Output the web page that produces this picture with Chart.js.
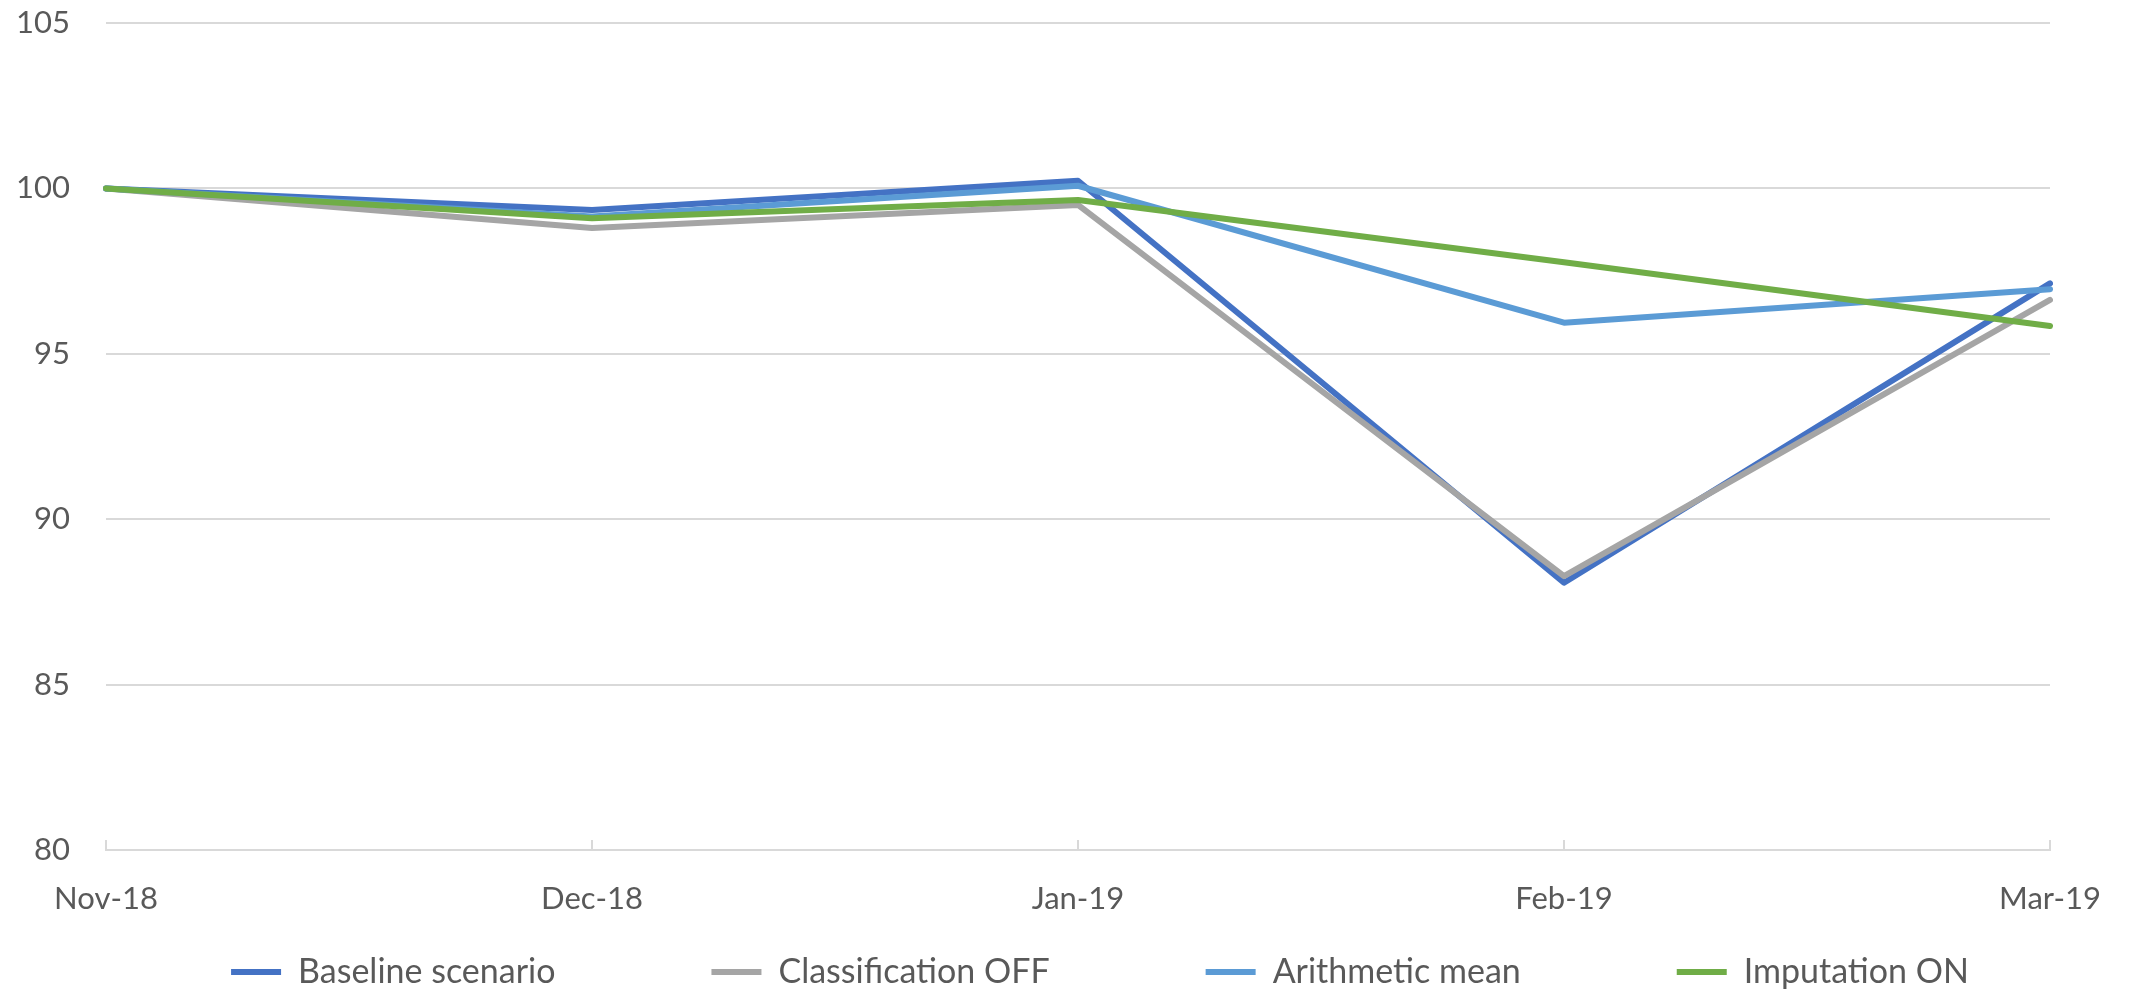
<!DOCTYPE html>
<html>
<head>
<meta charset="utf-8">
<script src="https://cdn.jsdelivr.net/npm/chart.js@4/dist/chart.umd.min.js"></script>
<style>
  html, body { margin: 0; padding: 0; background: #ffffff; }
  #wrap { width: 2129px; height: 990px; position: relative; }
</style>
</head>
<body>
<div id="wrap"><canvas id="chart"></canvas></div>
<script>
// Monthly index values, Nov-18 = 100
const months = ['Nov-18', 'Dec-18', 'Jan-19', 'Feb-19', 'Mar-19'];
const baselineScenario = [100, 99.35, 100.23, 88.08, 97.13];
const classificationOff = [100, 98.8, 99.5, 88.28, 96.63];
const arithmeticMean = [100, 99.15, 100.08, 95.94, 96.95];
const imputationOn = [100, 99.1, 99.65, 97.77, 95.84];
const yTicks = [80, 85, 90, 95, 100, 105];

const TEXT = '#595959';
const GRID = '#d9d9d9';
const FONT = 'Lato, "Open Sans", sans-serif';

function series(label, data, color, order) {
  return {
    label, data, order,
    borderColor: color,
    backgroundColor: color,
    borderWidth: 6,
    borderCapStyle: 'round',
    borderJoinStyle: 'round',
    pointRadius: 0,
    pointHoverRadius: 0,
    tension: 0,
    fill: false
  };
}

// extra space after each legend entry (except the last) so entries spread out evenly
const LEGEND_GAP = 128;
function gapText(font) {
  const ctx = document.createElement('canvas').getContext('2d');
  ctx.font = font;
  const w = ctx.measureText('\u2002').width;
  return '\u2002'.repeat(Math.max(0, Math.round(LEGEND_GAP / w)));
}

const legendFontSize = 34;

// nudges the legend row slightly to the right of the plot centre
const legendShift = {
  id: 'legendShift',
  afterLayout(chart) {
    const lg = chart.legend;
    if (lg) { lg.left += 22; lg.right += 22; }
  }
};

new Chart(document.getElementById('chart'), {
  type: 'line',
  data: {
    labels: months,
    datasets: [
      series('Baseline scenario', baselineScenario, '#4472C4', 4),
      series('Classification OFF', classificationOff, '#A5A5A5', 3),
      series('Arithmetic mean', arithmeticMean, '#5B9BD5', 2),
      series('Imputation ON', imputationOn, '#70AD47', 1)
    ]
  },
  plugins: [legendShift],
  options: {
    responsive: true,
    maintainAspectRatio: false,
    animation: false,
    layout: { padding: { top: 23, right: 79, bottom: -9, left: 0 } },
    plugins: {
      tooltip: { enabled: false },
      legend: {
        position: 'bottom',
        fullSize: false,
        labels: {
          color: TEXT,
          font: { family: FONT, size: legendFontSize },
          boxWidth: 50,
          boxHeight: 6,
          padding: 20,
          sort: (a, b) => a.datasetIndex - b.datasetIndex,
          generateLabels: (chart) => {
            const pad = gapText(legendFontSize + 'px ' + FONT);
            const n = chart.data.datasets.length;
            return chart.data.datasets.map((ds, i) => ({
              text: ds.label + (i < n - 1 ? pad : ''),
              fillStyle: ds.borderColor,
              strokeStyle: ds.borderColor,
              lineWidth: 0,
              hidden: false,
              datasetIndex: i,
              fontColor: TEXT
            }));
          }
        }
      }
    },
    scales: {
      x: {
        type: 'category',
        offset: false,
        grid: {
          display: true,
          drawOnChartArea: false,
          drawTicks: true,
          tickLength: -10,
          color: GRID,
          lineWidth: 2
        },
        border: { display: true, color: GRID, width: 2 },
        ticks: {
          color: TEXT,
          font: { family: FONT, size: 31, lineHeight: '118px' },
          padding: 0,
          maxRotation: 0,
          autoSkip: false
        },
        afterFit: (scale) => { scale.height = 85; }
      },
      y: {
        min: yTicks[0],
        max: yTicks[yTicks.length - 1],
        afterBuildTicks: (scale) => { scale.ticks = yTicks.map(v => ({ value: v })); },
        grid: { color: GRID, lineWidth: 2, drawTicks: true, tickLength: 36, tickColor: 'rgba(0,0,0,0)' },
        border: { display: false },
        ticks: {
          color: TEXT,
          font: { family: FONT, size: 31 },
          padding: 0
        },
        afterFit: (scale) => { scale.width = 106; }
      }
    }
  }
});
</script>
</body>
</html>
